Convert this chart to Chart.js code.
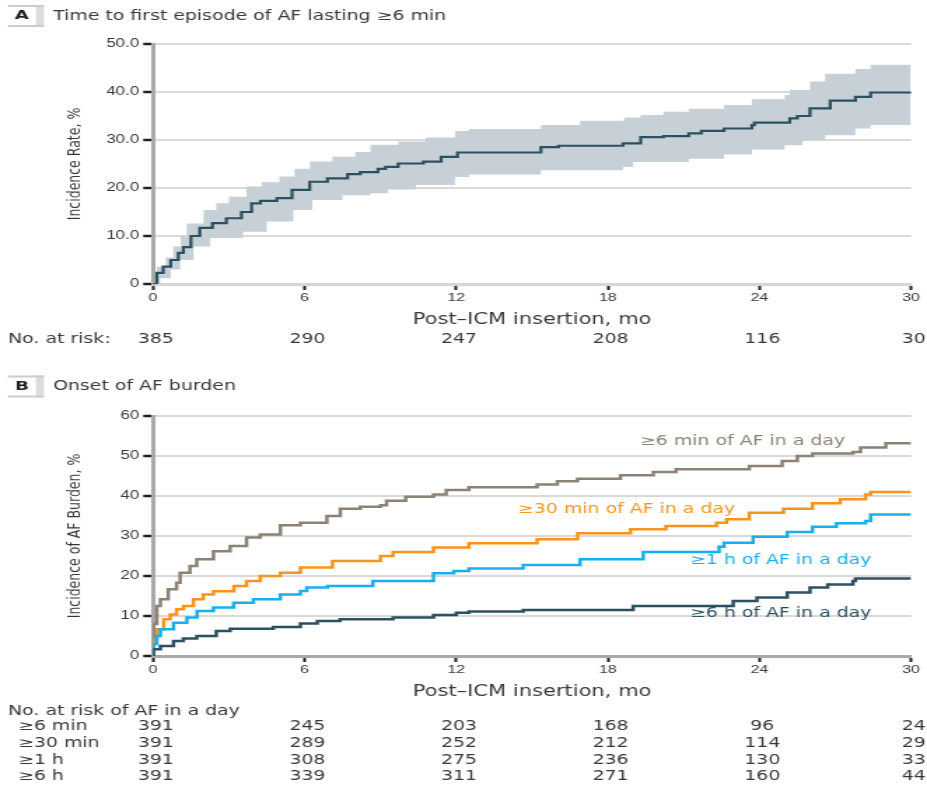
<!DOCTYPE html>
<html>
<head>
<meta charset="utf-8">
<script src="https://cdn.jsdelivr.net/npm/chart.js@4.4.0/dist/chart.umd.min.js"></script>
<style>
  body { margin: 0; background: #fff; }
  /* the reference is stretched sideways, so the canvases are drawn narrow and widened */
  .panel canvas { display: block; transform: scaleX(1.4003); transform-origin: 0 0; }
</style>
</head>
<body>
<div class="panel"><canvas id="chartA" width="662" height="365"></canvas></div>
<div class="panel"><canvas id="chartB" width="662" height="420"></canvas></div>
<script>
// ---- data ----
const xTicks = [0, 6, 12, 18, 24, 30];
const yLabelsA = ['0', '10.0', '20.0', '30.0', '40.0', '50.0'];
const yLabelsB = ['0', '10', '20', '30', '40', '50', '60'];

// Panel A: time to first AF episode >= 6 min
const aTime = [0, 0.15, 0.4, 0.7, 1.0, 1.2, 1.5, 1.85, 2.35, 2.9, 3.5, 3.9, 4.25, 4.9, 5.5, 6.2, 6.9, 7.7, 8.2, 8.9,
  9.2, 9.7, 10.7, 11.4, 12.05, 15.35, 16.05, 18.6, 19.3, 20.2, 21.2, 21.7, 22.6, 23.7, 23.8, 25.2, 25.5, 26.0, 26.8, 27.8, 28.4, 30];
const aRate = [0, 2.3, 3.6, 5.0, 6.5, 7.7, 10.0, 11.7, 12.7, 13.7, 15.0, 16.8, 17.3, 17.9, 19.6, 21.3, 22.0, 22.9, 23.3, 24.0,
  24.4, 25.1, 25.5, 26.5, 27.4, 28.5, 28.8, 29.3, 30.6, 30.8, 31.4, 31.9, 32.4, 33.1, 33.6, 34.5, 35.0, 36.6, 38.2, 39.0, 39.9, 40.0];
const aUpTime = [0, 0.15, 0.5, 0.8, 1.1, 1.33, 2.0, 2.5, 3.0, 3.7, 4.3, 5.0, 5.6, 6.2, 7.1, 8.0, 8.6, 9.7, 10.8, 11.95,
  12.5, 15.35, 16.9, 18.65, 19.3, 20.2, 21.2, 22.6, 23.7, 25.0, 25.2, 26.0, 26.6, 27.8, 28.4, 30];
const aUp = [0, 3.6, 5.5, 7.8, 10, 12.6, 15.4, 16.8, 18.2, 20.3, 21.2, 22.4, 24, 25.5, 26.5, 27.5, 29, 29.7, 30.5, 31.9,
  32.3, 33.1, 34, 34.7, 35.2, 35.9, 36.5, 37.3, 38.5, 39.4, 40.4, 42.2, 43.8, 44.8, 45.7, 45.7];
const aLoTime = [0, 0.28, 0.7, 1.07, 1.6, 2.26, 3.56, 4.5, 5.55, 6.3, 7.5, 8.6, 9.3, 10.4, 11.95, 12.5, 15.35, 18.6, 19.0, 21.2,
  22.6, 23.7, 25.0, 25.7, 26.6, 27.8, 28.4, 30];
const aLo = [0, 1.2, 3, 5, 7.8, 9.6, 10.9, 13, 15.4, 17.5, 18.5, 18.9, 19.7, 20.6, 22.3, 22.8, 23.7, 24.4, 25.4, 26.1,
  27, 28, 28.9, 29.9, 31, 32.4, 33.1, 33.1];
const riskA = [385, 290, 247, 208, 116, 30];

// Panel B: onset of AF burden
const b6mTime = [0, 0.02, 0.15, 0.29, 0.6, 0.93, 1.07, 1.46, 1.73, 2.39, 3.05, 3.7, 4.24, 5.04, 5.83, 6.88, 7.41, 8.2, 9.0, 9.24,
  10.0, 11.1, 11.6, 12.5, 15.2, 16.0, 16.8, 18.5, 19.8, 20.7, 23.6, 24.9, 25.5, 26.1, 27.7, 28.0, 29.0, 30];
const b6m = [0, 8, 12.5, 14.2, 16.7, 18.3, 20.8, 22.5, 24.2, 26.2, 27.5, 29.6, 30.4, 32.7, 33.3, 35, 36.8, 37.3, 37.7, 38.8,
  39.8, 40.4, 41.5, 42.2, 42.9, 43.7, 44.3, 45.2, 46, 46.7, 47.5, 48.75, 50, 50.6, 51, 52.1, 53.2, 53.2];
const b30mTime = [0, 0.02, 0.15, 0.42, 0.68, 0.93, 1.2, 1.6, 1.99, 2.39, 3.2, 3.7, 4.24, 5.04, 5.83, 7.1, 9.0, 9.5, 11.1, 12.5,
  15.2, 16.8, 18.9, 20.3, 22.3, 22.7, 23.6, 24.95, 26.1, 27.2, 28.2, 28.4, 30];
const b30m = [0, 4, 6.7, 9.2, 10.4, 11.7, 12.5, 14.2, 15.4, 16.2, 17.5, 18.75, 20, 20.8, 22.1, 23.75, 25, 26, 27.1, 28.2,
  29.2, 30.7, 31.7, 32.5, 33.3, 34.2, 35.8, 36.8, 38.2, 39.2, 40.4, 41, 41];
const b1hTime = [0, 0.02, 0.15, 0.29, 0.81, 1.34, 1.74, 2.39, 3.19, 3.97, 5.04, 5.83, 6.08, 6.9, 8.7, 11.1, 11.9, 12.5, 14.65, 16.9,
  19.4, 22.4, 22.6, 23.75, 25.1, 26.1, 27.05, 28.2, 28.4, 30];
const b1h = [0, 3, 5, 6.7, 8.3, 9.6, 11.25, 12.1, 13.3, 14.2, 15.4, 16.25, 17.1, 17.5, 18.75, 20.7, 21.25, 21.9, 22.75, 24.2,
  26, 27.3, 28.3, 29.8, 31, 32.3, 33.2, 33.75, 35.4, 35.4];
const b6hTime = [0, 0.01, 0.29, 0.81, 1.2, 1.73, 2.5, 3.05, 4.76, 5.83, 6.5, 7.4, 9.5, 11.1, 12.0, 12.5, 14.65, 19.0, 22.96, 23.9,
  25.1, 26.0, 26.7, 27.7, 27.8, 30];
const b6h = [0, 1.7, 2.5, 3.75, 4.4, 5, 6.25, 6.8, 7.25, 8.1, 8.75, 9.2, 9.6, 10.25, 10.8, 11.1, 11.5, 12.5, 13.75, 14.6,
  15.85, 17.1, 17.9, 18.75, 19.35, 19.35];
const riskLabelsB = ['\u22656 min', '\u226530 min', '\u22651 h', '\u22656 h'];
const riskB = [
  [391, 245, 203, 168, 96, 24],
  [391, 289, 252, 212, 114, 29],
  [391, 308, 275, 236, 130, 33],
  [391, 339, 311, 271, 160, 44]
];
const curveNames = ['\u22656 min of AF in a day', '\u226530 min of AF in a day', '\u22651 h of AF in a day', '\u22656 h of AF in a day'];

const colA = '#2b5060';
const colBand = '#c6d0d6';
const colB = ['#8b8174', '#f7941d', '#1aaeec', '#2b5060'];
const textCol = '#383838';
const font = '"DejaVu Sans", sans-serif';

function pts(xs, ys) {
  return xs.map((x, i) => ({ x: x, y: ys[i] }));
}

function line(data, color, width) {
  return { data: data, borderColor: color, borderWidth: width, stepped: true, pointRadius: 0, fill: false };
}

function scalesFor(yMax, yLabels, yTitle, xBorder) {
  return {
    x: {
      type: 'linear', min: 0, max: 30,
      afterBuildTicks: s => { s.ticks = xTicks.map(v => ({ value: v })); },
      afterFit: s => { s.height = 50; },
      grid: { drawOnChartArea: false, drawTicks: true, tickLength: 6, tickColor: '#231f20', tickWidth: 2 },
      border: { color: xBorder, width: 3 },
      ticks: { color: textCol, padding: 1, maxRotation: 0, font: { family: 'Liberation Sans', size: 11.5 } },
      title: { display: true, text: 'Post\u2013ICM insertion, mo', color: textCol,
        font: { family: 'DejaVu Sans', size: 15 }, padding: { top: 0, bottom: 5 } }
    },
    y: {
      min: 0, max: yMax,
      afterFit: s => { s.width = 109.3; },
      grid: { color: '#d9d9d9', lineWidth: 2, tickLength: 7, tickColor: '#231f20', tickWidth: 2.5 },
      border: { color: '#a9a9a9', width: 3 },
      ticks: { stepSize: 10, color: textCol, padding: 3, font: { family: 'Liberation Sans', size: 12 },
        callback: v => yLabels[Math.round(v / 10)] },
      title: { display: true, text: yTitle, color: textCol,
        font: { family: 'DejaVu Sans', size: 12.5 }, padding: { top: 46, bottom: 0 } }
    }
  };
}

function drawTab(ctx, letter, title, y) {
  ctx.save();
  ctx.fillStyle = '#dcdcdc';
  ctx.fillRect(25.6, y - 11, 5.8, 22);
  ctx.strokeStyle = '#cccccc';
  ctx.lineWidth = 2;
  ctx.beginPath();
  ctx.moveTo(5.7, y - 10); ctx.lineTo(31.4, y - 10);
  ctx.moveTo(5.7, y + 10); ctx.lineTo(31.4, y + 10);
  ctx.stroke();
  ctx.textBaseline = 'middle';
  ctx.textAlign = 'center';
  ctx.fillStyle = '#231f20';
  ctx.font = 'bold 13px ' + font;
  ctx.fillText(letter, 15.6, y);
  ctx.textAlign = 'left';
  ctx.fillStyle = textCol;
  ctx.font = '13.5px ' + font;
  ctx.fillText(title, 37.9, y);
  ctx.restore();
}

function drawRiskRow(chart, values, y) {
  const ctx = chart.ctx, xs = chart.scales.x;
  ctx.textAlign = 'center';
  values.forEach((v, i) => ctx.fillText(String(v), xs.getPixelForValue(xTicks[i]) + 2, y));
}

// Panel A extras: tab title and at-risk row
const textA = {
  id: 'textA',
  afterDraw(chart) {
    const ctx = chart.ctx;
    drawTab(ctx, 'A', 'Time to first episode of AF lasting \u22656 min', 16);
    ctx.save();
    ctx.fillStyle = textCol;
    ctx.font = '13.5px ' + font;
    ctx.textBaseline = 'middle';
    ctx.textAlign = 'left';
    ctx.fillText('No. at risk:', 5.7, 339);
    drawRiskRow(chart, riskA, 339);
    ctx.restore();
  }
};

// Panel B extras: tab title, curve labels, at-risk table
const labelAt = [[19.27, 53.75], [14.44, 36.75], [21.25, 24], [21.25, 10.75]];
const textB = {
  id: 'textB',
  afterDraw(chart) {
    const ctx = chart.ctx, xs = chart.scales.x, ys = chart.scales.y;
    drawTab(ctx, 'B', 'Onset of AF burden', 21.5);
    ctx.save();
    ctx.font = '13.5px ' + font;
    ctx.textBaseline = 'middle';
    ctx.textAlign = 'left';
    curveNames.forEach((name, i) => {
      ctx.fillStyle = colB[i];
      ctx.fillText(name, xs.getPixelForValue(labelAt[i][0]), ys.getPixelForValue(labelAt[i][1]));
    });
    ctx.fillStyle = textCol;
    ctx.fillText('No. at risk of AF in a day', 5.7, 346);
    const rowY = [361, 378, 395, 411];
    riskB.forEach((row, r) => {
      ctx.textAlign = 'left';
      ctx.fillText(riskLabelsB[r], 12.9, rowY[r]);
      drawRiskRow(chart, row, rowY[r]);
    });
    ctx.restore();
  }
};

new Chart(document.getElementById('chartA'), {
  type: 'line',
  data: {
    datasets: [
      line(pts(aTime, aRate), colA, 2.2),
      { data: pts(aUpTime, aUp), stepped: true, pointRadius: 0, borderWidth: 0, borderColor: 'rgba(0,0,0,0)',
        backgroundColor: colBand, fill: '+1' },
      { data: pts(aLoTime, aLo), stepped: true, pointRadius: 0, borderWidth: 0, borderColor: 'rgba(0,0,0,0)', fill: false }
    ]
  },
  options: {
    responsive: false,
    animation: false,
    layout: { padding: { top: 44, right: 11.4, bottom: 31, left: 0 } },
    plugins: { legend: { display: false }, tooltip: { enabled: false } },
    scales: scalesFor(50, yLabelsA, 'Incidence Rate, %', '#d6d6d6')
  },
  plugins: [textA]
});

new Chart(document.getElementById('chartB'), {
  type: 'line',
  data: {
    datasets: [
      line(pts(b6hTime, b6h), colB[3], 2.5),
      line(pts(b1hTime, b1h), colB[2], 2.5),
      line(pts(b30mTime, b30m), colB[1], 2.5),
      line(pts(b6mTime, b6m), colB[0], 2.5)
    ]
  },
  options: {
    responsive: false,
    animation: false,
    layout: { padding: { top: 51, right: 11.4, bottom: 79, left: 0 } },
    plugins: { legend: { display: false }, tooltip: { enabled: false } },
    scales: scalesFor(60, yLabelsB, 'Incidence of AF Burden, %', '#a9a9a9')
  },
  plugins: [textB]
});
</script>
</body>
</html>
